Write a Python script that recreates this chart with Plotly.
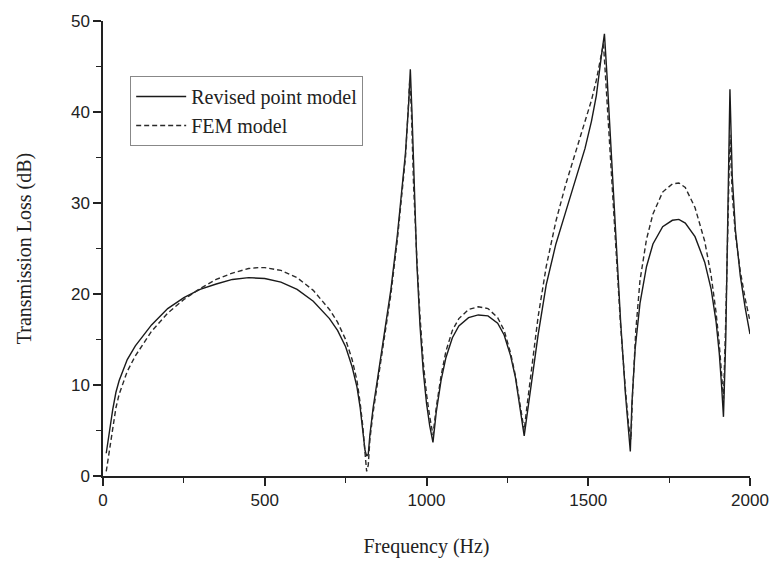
import plotly.graph_objects as go

# Revised point model (solid)
freq_rpm = [10, 20, 30, 40, 50, 75, 100, 150, 200, 250, 300, 350, 400, 450, 500, 550, 600, 650, 700, 725, 750, 770, 785, 795, 803, 810, 815, 820, 825, 835, 850, 870, 890, 910, 925, 935, 945, 950, 955, 962, 970, 980, 990, 1000, 1010, 1020, 1030, 1045, 1060, 1080, 1100, 1130, 1160, 1190, 1220, 1240, 1260, 1275, 1285, 1295, 1302, 1310, 1325, 1345, 1370, 1400, 1430, 1460, 1490, 1510, 1525, 1540, 1550, 1558, 1570, 1585, 1600, 1615, 1625, 1630, 1635, 1645, 1660, 1680, 1700, 1730, 1760, 1780, 1800, 1830, 1860, 1880, 1895, 1905, 1912, 1918, 1925, 1932, 1938, 1945, 1955, 1970, 1985, 2000]
tl_rpm = [2.5, 5.0, 7.3, 9.2, 10.5, 12.8, 14.3, 16.6, 18.4, 19.6, 20.5, 21.1, 21.6, 21.8, 21.7, 21.3, 20.5, 19.2, 17.3, 16.0, 14.2, 12.0, 9.8, 7.5, 5.0, 2.8, 2.2, 2.4, 4.5, 7.5, 11.0, 15.5, 20.5, 26.5, 31.5, 35.5, 41.0, 44.7, 40.0, 31.0, 23.5, 16.5, 11.5, 8.0, 5.5, 3.7, 7.0, 10.5, 13.0, 15.2, 16.5, 17.4, 17.7, 17.6, 16.8, 15.5, 13.2, 10.8, 8.5, 6.0, 4.4, 6.5, 10.5, 15.5, 21.0, 25.5, 29.0, 32.5, 36.0, 39.0, 41.8, 46.0, 48.6, 44.0, 36.0, 26.0, 17.0, 9.0, 4.5, 2.7, 8.0, 14.0, 19.0, 23.0, 25.5, 27.4, 28.1, 28.2, 27.8, 26.3, 23.5, 20.5, 17.0, 13.5, 10.0, 6.5, 15.0, 28.0, 42.5, 33.0, 27.0, 22.0, 18.5, 15.6]

# FEM model (dashed)
freq_fem = [10, 20, 30, 40, 50, 60, 75, 100, 150, 200, 250, 300, 350, 400, 450, 480, 500, 550, 600, 650, 700, 725, 750, 770, 785, 795, 803, 810, 815, 820, 825, 835, 850, 870, 890, 910, 925, 935, 943, 948, 953, 960, 970, 980, 990, 1000, 1010, 1020, 1030, 1045, 1060, 1080, 1100, 1130, 1160, 1190, 1220, 1240, 1260, 1275, 1285, 1295, 1302, 1310, 1325, 1345, 1370, 1400, 1430, 1460, 1490, 1510, 1525, 1540, 1547, 1555, 1568, 1585, 1600, 1615, 1625, 1632, 1637, 1647, 1660, 1680, 1700, 1730, 1760, 1780, 1800, 1830, 1860, 1880, 1895, 1905, 1912, 1918, 1925, 1932, 1938, 1945, 1955, 1970, 1985, 2000]
tl_fem = [0.5, 3.0, 5.5, 7.5, 9.0, 10.0, 11.5, 13.2, 15.9, 17.9, 19.4, 20.6, 21.6, 22.3, 22.8, 22.9, 22.9, 22.6, 21.8, 20.4, 18.3, 16.9, 15.0, 12.8, 10.5, 8.0, 5.5, 2.5, 0.5, 1.2, 4.0, 7.0, 10.5, 15.0, 20.0, 26.0, 31.0, 35.0, 40.0, 43.5, 40.5, 32.0, 24.0, 17.5, 12.5, 9.0, 6.5, 4.5, 7.5, 11.0, 13.7, 16.0, 17.3, 18.3, 18.6, 18.4, 17.4, 16.0, 13.5, 11.0, 8.8, 6.5, 5.0, 7.5, 12.0, 17.5, 23.0, 28.0, 32.0, 35.5, 38.8, 41.3, 43.5, 46.5, 47.5, 43.0, 35.0, 25.0, 16.5, 9.5, 5.5, 4.0, 9.0, 16.0, 21.5, 26.0, 28.8, 31.2, 32.1, 32.2, 31.7, 29.5, 25.8, 22.0, 18.0, 14.5, 11.0, 8.5, 17.0, 30.0, 37.5, 31.0, 26.5, 22.5, 19.5, 17.0]

x_ticks = [0, 500, 1000, 1500, 2000]
y_ticks = [0, 10, 20, 30, 40, 50]

fig = go.Figure()
fig.add_trace(go.Scatter(x=freq_rpm, y=tl_rpm, mode="lines", name="Revised point model",
                         line=dict(color="#1a1a1a", width=1.4)))
fig.add_trace(go.Scatter(x=freq_fem, y=tl_fem, mode="lines", name="FEM model",
                         line=dict(color="#2a2a2a", width=1.4, dash="5px,3px")))

axis_common = dict(showgrid=False, zeroline=False, showline=True, linecolor="#222222", linewidth=1.5,
                   ticks="outside", ticklen=8, tickwidth=1.5, tickcolor="#222222",
                   ticklabeloverflow="allow",
                   tickfont=dict(family="Liberation Sans", size=17, color="#222222"))

fig.update_xaxes(range=[0, 2000], tickvals=x_ticks, ticktext=[str(v) for v in x_ticks],
                 minor=dict(ticks="outside", ticklen=5, tickwidth=1.2, tickcolor="#222222", dtick=250, tick0=0),
                 title=dict(text="Frequency (Hz)", font=dict(family="Liberation Serif", size=20, color="#222222"), standoff=30),
                 **axis_common)
fig.update_yaxes(range=[0, 50], tickvals=y_ticks, ticktext=[str(v) for v in y_ticks],
                 minor=dict(ticks="outside", ticklen=5, tickwidth=1.2, tickcolor="#222222", dtick=5, tick0=0),
                 title=dict(text="Transmission Loss (dB)", font=dict(family="Liberation Serif", size=20, color="#222222"), standoff=34),
                 **axis_common)

fig.update_layout(
    width=781, height=577,
    margin=dict(l=103, r=12, t=20, b=101),
    plot_bgcolor="white", paper_bgcolor="white",
    showlegend=True,
    legend=dict(x=0.042, y=0.879, xanchor="left", yanchor="top",
                bordercolor="#888888", borderwidth=1, bgcolor="white",
                font=dict(family="Liberation Serif", size=20, color="#222222"),
                tracegroupgap=0, itemwidth=50),
)

fig.write_html("out.html", config={"displayModeBar": False},
               post_script="document.body.style.margin='0';document.body.style.overflow='hidden';")
